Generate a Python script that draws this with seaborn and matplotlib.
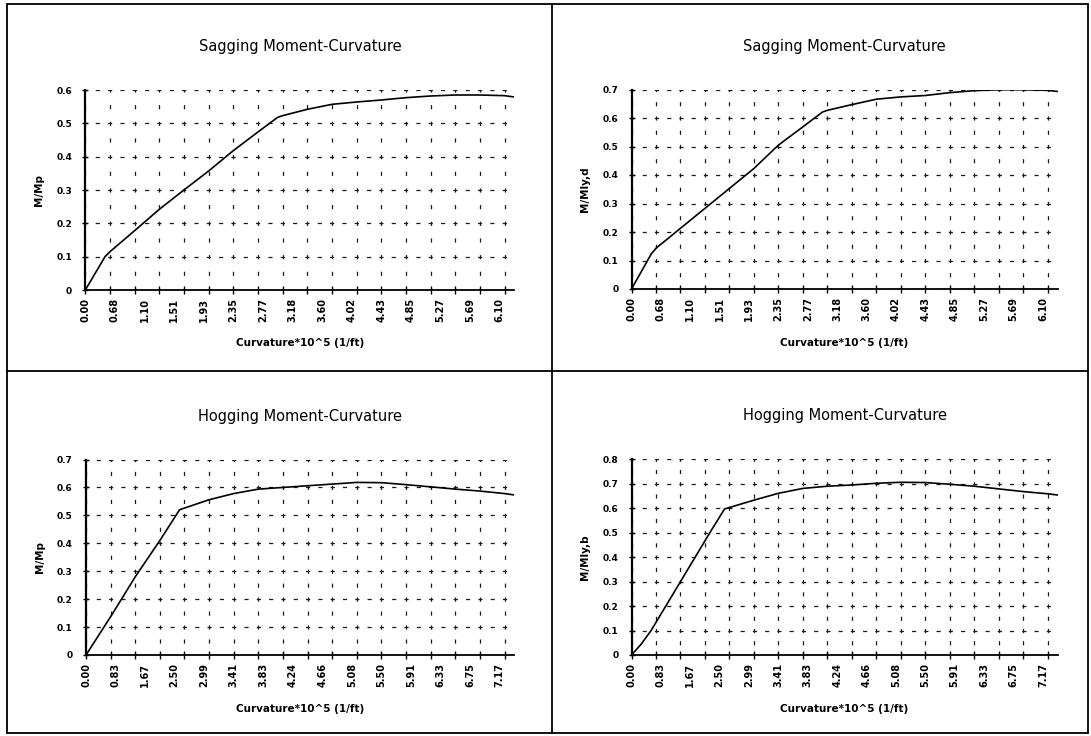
import numpy as np
import matplotlib
matplotlib.use("Agg")
import matplotlib.pyplot as plt
import seaborn as sns
from matplotlib.lines import Line2D

sns.set_theme(style="ticks")
plt.rcParams["font.family"] = ["DejaVu Sans"]
plt.rcParams["lines.scale_dashes"] = False

W, H, DPI = 1091, 736, 100

# category tick labels (Excel-style category axis, one label every 6 points)
top_labels = ["0.00", "0.68", "1.10", "1.51", "1.93", "2.35", "2.77", "3.18",
              "3.60", "4.02", "4.43", "4.85", "5.27", "5.69", "6.10"]
bottom_labels = ["0.00", "0.83", "1.67", "2.50", "2.99", "3.41", "3.83", "4.24",
                 "4.66", "5.08", "5.50", "5.91", "6.33", "6.75", "7.17"]
n_categories = 88

# sagging curves: category index of each point and moment ratio
sag_idx = [0, 4, 5, 10, 15, 20, 25, 30, 35, 39, 40, 45, 50, 55, 60, 65, 70, 75, 80, 85, 87]
sag_mp = [0, 0.100, 0.115, 0.178, 0.242, 0.300, 0.357, 0.418, 0.474, 0.518, 0.523,
          0.542, 0.557, 0.564, 0.570, 0.577, 0.582, 0.585, 0.585, 0.583, 0.579]
sag_myd = [0, 0.122, 0.143, 0.213, 0.283, 0.353, 0.423, 0.505, 0.569, 0.621, 0.627,
           0.647, 0.666, 0.674, 0.679, 0.689, 0.696, 0.699, 0.699, 0.697, 0.693]

# hogging curves
hog_mp_idx = [0, 5, 10, 15, 19, 25, 30, 35, 40, 45, 50, 55, 60, 65, 70, 75, 80, 85, 87]
hog_mp = [0, 0.137, 0.280, 0.410, 0.520, 0.556, 0.578, 0.594, 0.600, 0.606, 0.612,
          0.618, 0.617, 0.610, 0.602, 0.594, 0.587, 0.578, 0.573]
hog_myb_idx = [0, 2, 4, 7, 10, 13, 16, 19, 25, 30, 35, 40, 45, 50, 55, 60, 65, 70, 75, 80, 85, 87]
hog_myb = [0, 0.045, 0.100, 0.200, 0.300, 0.400, 0.500, 0.597, 0.633, 0.661, 0.681,
           0.690, 0.695, 0.702, 0.706, 0.705, 0.698, 0.690, 0.679, 0.668, 0.659, 0.654]

panels = [
    # title, x, y, ylabel, ytop, labels, rect (px: left, top, right, bottom)
    ("Sagging Moment-Curvature", sag_idx, sag_mp, "M/Mp", 0.6, top_labels,
     (85.3, 90, 514.4, 290)),
    ("Sagging Moment-Curvature", sag_idx, sag_myd, "M/Mly,d", 0.7, top_labels,
     (631.5, 89.5, 1057.6, 289)),
    ("Hogging Moment-Curvature", hog_mp_idx, hog_mp, "M/Mp", 0.7, bottom_labels,
     (86, 459.5, 514.4, 655)),
    ("Hogging Moment-Curvature", hog_myb_idx, hog_myb, "M/Mly,b", 0.8, bottom_labels,
     (631.5, 459.3, 1057.6, 655)),
]

fig = plt.figure(figsize=(W / DPI, H / DPI), dpi=DPI)
fig.patch.set_facecolor("white")

for title, xs, ys, ylab, ytop, labels, (l, t, r, b) in panels:
    ax = fig.add_axes([l / W, 1 - b / H, (r - l) / W, (b - t) / H])
    sns.lineplot(x=xs, y=ys, ax=ax, color="black", linewidth=1.2,
                 sort=False, estimator=None)

    ax.set_xlim(0, n_categories - 1)
    ax.set_ylim(0, ytop)
    ax.set_facecolor("white")

    # tick marks every 5 categories, labels every 6
    ax.xaxis.remove_overlapping_locs = False
    ax.set_xticks(np.arange(0, n_categories - 1, 5))
    ax.set_xticklabels([])
    ax.set_xticks(np.arange(0, 6 * len(labels), 6), minor=True)
    ax.set_xticklabels(labels, minor=True, rotation=90, fontsize=7,
                       fontweight="bold")
    yt = np.round(np.arange(0, ytop + 0.001, 0.1), 1)
    ax.set_yticks(yt)
    ax.set_yticklabels(["0"] + [f"{v:.1f}" for v in yt[1:]], fontsize=6.5,
                       fontweight="bold")
    ax.tick_params(axis="x", which="major", direction="inout", length=6,
                   width=1, color="black")
    ax.tick_params(axis="x", which="minor", length=0, pad=6, labelcolor="black")
    ax.tick_params(axis="y", which="major", direction="inout", length=5,
                   width=1, color="black", pad=7, labelcolor="black")

    # dashed grids: dashes on each gridline crossing and halfway between
    w_px, h_px = r - l, b - t
    hx = w_px * 5 / (n_categories - 1) / 2 * 72 / DPI
    vy = h_px / (len(yt) - 1) / 2 * 72 / DPI
    on = 3.0
    ax.grid(axis="y", which="major", color="#1a1a1a", linewidth=0.9,
            linestyle=(on / 2, (on, hx - on)))
    ax.grid(axis="x", which="major", color="#1a1a1a", linewidth=0.9,
            linestyle=(on / 2, (on, vy - on)))

    for s in ["top", "right"]:
        ax.spines[s].set_visible(False)
    ax.spines["left"].set_linewidth(1.6)
    ax.spines["bottom"].set_linewidth(1.3)
    ax.spines["left"].set_color("black")
    ax.spines["bottom"].set_color("black")

    ax.set_title(title, fontsize=10.5, pad=28, color="black")
    ax.set_xlabel("Curvature*10^5 (1/ft)", fontsize=7.5, fontweight="bold",
                  color="black", va="top")
    ax.xaxis.set_label_coords(0.5, -48.5 / h_px)
    ax.set_ylabel(ylab, fontsize=7.5, fontweight="bold", color="black")
    ax.yaxis.set_label_coords(-41.5 / w_px, 0.5)

# panel frame
frame = dict(color="black", linewidth=1.3, transform=fig.transFigure)
x0, x1, xm = 7 / W, 1088 / W, 552 / W
y0, y1, ym = 1 - 733 / H, 1 - 4 / H, 1 - 371 / H
for xa, ya in [([x0, x1], [y1, y1]), ([x0, x1], [y0, y0]), ([x0, x0], [y0, y1]),
               ([x1, x1], [y0, y1]), ([xm, xm], [y0, y1]), ([x0, x1], [ym, ym])]:
    fig.add_artist(Line2D(xa, ya, **frame))

fig.savefig("out.png", dpi=DPI)
